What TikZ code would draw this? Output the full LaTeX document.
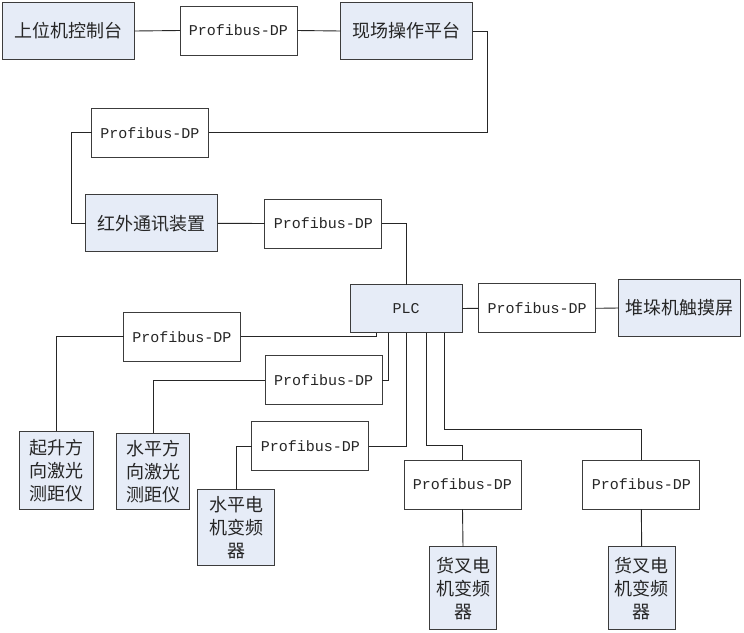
\documentclass[tikz,border=0pt]{standalone}
\usepackage{fontspec}
\newfontfamily\cjk{Noto Sans CJK SC}
\newfontfamily\mono{Liberation Mono}
\usetikzlibrary{calc,positioning}
\definecolor{boxblue}{HTML}{E6ECF7}
\definecolor{edgegray}{HTML}{3C3C3C}

\begin{document}
\begin{tikzpicture}[x=1pt,y=-1pt,
		blk/.style={draw=edgegray,fill=boxblue,line width=1pt,inner sep=0pt,outer sep=0pt,
			minimum width=132pt,minimum height=57pt,align=center,text=black!85,
			font=\cjk\fontsize{18}{23}\selectfont},
		bus/.style={draw=edgegray,fill=white,line width=1pt,inner sep=0pt,outer sep=0pt,
			minimum width=117pt,minimum height=49pt,text=black!85,
			font=\mono\fontsize{15}{18}\selectfont},
		wire/.style={line width=0.9pt,black!85}]
				\path[use as bounding box]
				(0,0) rectangle (744,632);
				\node[blk] (host) at (68.7,31) {上位机控制台};
				\node[bus] (pbA) at (238.5,30.5) {Profibus-DP};
				\node[blk] (field) at (406.7,31) {现场操作平台};
				\node[bus] (pbB) at (150,132.7) {Profibus-DP};
				\node[blk] (ir) at (151.7,223.3) {红外通讯装置};
				\node[bus] (pbC) at (323.3,223.5) {Profibus-DP};
				\node[blk,minimum width=112pt,minimum height=48pt,font=\mono\fontsize{15}{18}\selectfont] (plc) at (406,308.5) {PLC};
				\node[bus] (pbD) at (537.2,308.3) {Profibus-DP};
				\node[blk,minimum width=122pt] (hmi) at (679.8,308) {堆垛机触摸屏};
				\node[bus] (pbE) at (182,336.8) {Profibus-DP};
				\node[bus] (pbF) at (323.7,380.2) {Profibus-DP};
				\node[bus] (pbG) at (310.3,446.3) {Profibus-DP};
				\node[bus] (pbH) at (462.5,484.5) {Profibus-DP};
				\node[bus] (pbI) at (641.3,484.5) {Profibus-DP};
				\node[blk,minimum width=74pt,minimum height=78pt] (lift) at (56.2,470.2) {起升方\\向激光\\测距仪};
				\node[blk,minimum width=73pt,minimum height=76pt] (hlaser) at (153.3,471.3) {水平方\\向激光\\测距仪};
				\node[blk,minimum width=77pt,minimum height=76pt] (hinv) at (236.3,527.8) {水平电\\机变频\\器};
				\node[blk,minimum width=67pt,minimum height=83pt] (forkA) at (463,588.3) {货叉电\\机变频\\器};
				\node[blk,minimum width=67pt,minimum height=83pt] (forkB) at (641.7,588.3) {货叉电\\机变频\\器};
				\draw[wire] (host.east) -- (pbA.west);
				\draw[wire] (pbA.east) -- (field.west);
				\draw[wire] (field.east) -- ++(15,0) |- (pbB.east);
				\draw[wire] (pbB.west) -- ++(-20,0) |- (ir.west);
				\draw[wire] (ir.east) -- (pbC.west);
				\draw[wire] (pbC.east) -| (plc.north);
				\draw[wire] (plc.east) -- (pbD.west);
				\draw[wire] (pbD.east) -- (hmi.west);
				\draw[wire] (pbE.east) -| ([xshift=-29.5pt]plc.south);
				\draw[wire] (pbE.west) -| (lift.north);
				\draw[wire] (pbF.east) -| ([xshift=-18pt]plc.south);
				\draw[wire] (pbF.west) -| (hlaser.north);
				\draw[wire] (pbG.east) -| (plc.south);
				\draw[wire] (pbG.west) -| (hinv.north);
				\draw[wire] ([xshift=20pt]plc.south) |- ([yshift=15pt]pbH.north) -- (pbH.north);
				\draw[wire] (pbH.south) -- (forkA.north);
				\draw[wire] ([xshift=38.5pt]plc.south) |- ([yshift=30.7pt]pbI.north) -- (pbI.north);
				\draw[wire] (pbI.south) -- (forkB.north);
			\end{tikzpicture}
\end{document}
